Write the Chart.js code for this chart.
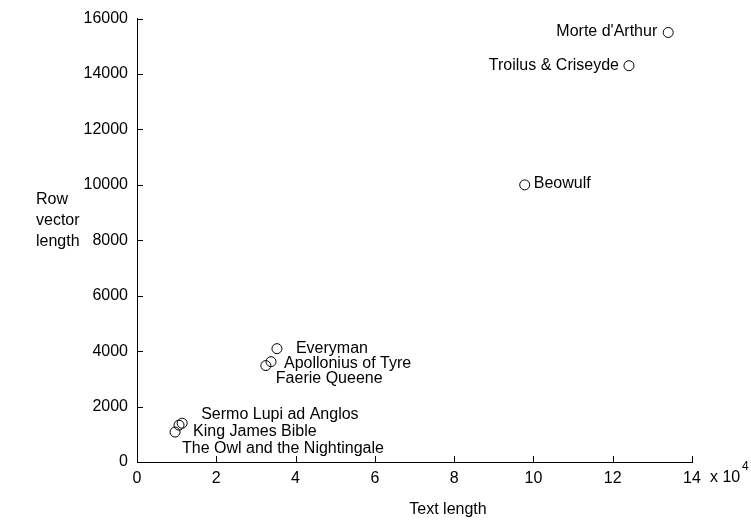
<!DOCTYPE html>
<html>
<head>
<meta charset="utf-8">
<script src="https://cdn.jsdelivr.net/npm/chart.js@4/dist/chart.umd.min.js"></script>
<style>
  html, body { margin: 0; background: #fff; }
  canvas { display: block; }
</style>
</head>
<body>
<canvas id="c" width="751" height="522"></canvas>
<script>
// ---- data ----
const works = ["Morte d'Arthur", "Troilus & Criseyde", "Beowulf", "Everyman", "Apollonius of Tyre",
               "Faerie Queene", "Sermo Lupi ad Anglos", "King James Bible", "The Owl and the Nightingale"];
const textLength = [134000, 124100, 97800, 35300, 33800, 32500, 11400, 9600, 10600];
const rowLength  = [15500, 14300, 10000, 4090, 3620, 3480, 1400, 1080, 1330];
const xTickStep = 20000, xMax = 140000;   // shown as 0..14 x 10^4
const yTickStep = 2000,  yMax = 16000;

// label placement relative to each point: [dx, dy, align]
const labelAt = [[-11, -1, "right"], [-10, 0, "right"], [9, -1, "left"], [19, 0, "left"], [13, 2, "left"],
                 [10, 13, "left"], [19, -9, "left"], [18, 0, "left"], [3, 23, "left"]];

const FONT = "'Liberation Sans', Arial, sans-serif";
const FS = 16;

const decor = {
  id: "decor",
  afterDraw(chart) {
    const { ctx, chartArea: a, scales: { x, y } } = chart;
    ctx.save();
    // inward tick marks (matlab style)
    ctx.strokeStyle = "#000"; ctx.lineWidth = 1;
    ctx.beginPath();
    x.ticks.forEach((t) => {
      const px = Math.round(x.getPixelForValue(t.value)) + 0.5;
      ctx.moveTo(px, a.bottom); ctx.lineTo(px, a.bottom - 6);
    });
    y.ticks.forEach((t) => {
      const py = Math.round(y.getPixelForValue(t.value)) + 0.5;
      ctx.moveTo(a.left, py); ctx.lineTo(a.left + 6, py);
    });
    ctx.stroke();

    // point labels
    ctx.fillStyle = "#000";
    ctx.font = FS + "px " + FONT;
    ctx.textBaseline = "middle";
    const pts = chart.getDatasetMeta(0).data;
    pts.forEach((p, i) => {
      const [dx, dy, al] = labelAt[i];
      ctx.textAlign = al;
      ctx.fillText(works[i], p.x + dx, p.y + dy);
    });

    // exponent marker
    ctx.textAlign = "left";
    ctx.fillText("x 10", a.right + 18, a.bottom + 16);
    ctx.font = "12px " + FONT;
    ctx.fillText("4", a.right + 50, a.bottom + 5);

    // axis labels
    ctx.font = FS + "px " + FONT;
    ctx.textAlign = "center";
    ctx.fillText("Text length", 448, 510);
    ctx.textAlign = "left";
    ["Row", "vector", "length"].forEach((s, i) => {
      ctx.fillText(s, 36, 200 + i * 21);
    });
    ctx.restore();
  }
};

new Chart(document.getElementById("c"), {
  type: "scatter",
  data: {
    datasets: [{
      data: textLength.map((v, i) => ({ x: v, y: rowLength[i] })),
      pointStyle: "circle", pointRadius: 5, pointHoverRadius: 5,
      borderColor: "#000", borderWidth: 1, backgroundColor: "rgba(0,0,0,0)",
    }],
  },
  options: {
    responsive: false, animation: false,
    layout: { padding: { top: 16, right: 59, left: 0, bottom: 0 } },
    plugins: { legend: { display: false }, tooltip: { enabled: false } },
    scales: {
      x: {
        min: 0, max: xMax,
        grid: { display: false, drawTicks: false },
        border: { display: true, color: "#000", width: 1 },
        ticks: { stepSize: xTickStep, color: "#000", padding: 7, font: { family: FONT, size: FS }, callback: (v) => String(v / 10000) },
        afterFit: (s) => { s.height = 60; },
      },
      y: {
        min: 0, max: yMax,
        grid: { display: false, drawTicks: false },
        border: { display: true, color: "#000", width: 1 },
        ticks: { stepSize: yTickStep, color: "#000", padding: 9, font: { family: FONT, size: FS }, callback: (v) => String(v) },
        afterFit: (s) => { s.width = 137; },
      },
    },
  },
  plugins: [decor],
});
</script>
</body>
</html>
